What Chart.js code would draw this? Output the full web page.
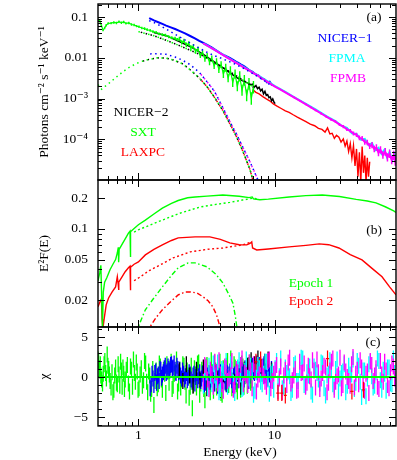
<!DOCTYPE html>
<html><head><meta charset="utf-8">
<script src="https://cdn.jsdelivr.net/npm/chart.js@4.4.1/dist/chart.umd.min.js"></script>
<style>
html,body{margin:0;padding:0;background:#fff;}
#wrap{position:relative;width:397px;height:460px;overflow:hidden;}
canvas{position:absolute;left:0;top:0;}
</style></head><body>
<div id="wrap">
<canvas id="ca" width="397" height="460"></canvas>
<canvas id="cb" width="397" height="460"></canvas>
<canvas id="cc" width="397" height="460"></canvas>
</div>
<script>
// ---------------- DATA ----------------
const X_MIN = 0.505, X_MAX = 78;
const X_TICKS = [1, 10];
const X_TICK_LABELS = ['1', '10'];
const X_MINOR = [0.6,0.7,0.8,0.9,2,3,4,5,6,7,8,9,20,30,40,50,60,70];

const A_TICKS = [1e-4, 1e-3, 0.01, 0.1];
const A_TICK_LABELS = ['10\u207B\u2074', '10\u207B\u00B3', '0.01', '0.1'];
const A_MINOR = [2e-5,3e-5,4e-5,5e-5,6e-5,7e-5,8e-5,9e-5,2e-4,3e-4,4e-4,5e-4,6e-4,7e-4,8e-4,9e-4,2e-3,3e-3,4e-3,5e-3,6e-3,7e-3,8e-3,9e-3,0.02,0.03,0.04,0.05,0.06,0.07,0.08,0.09,0.2];
const B_TICKS = [0.02, 0.05, 0.1, 0.2];
const B_TICK_LABELS = ['0.02', '0.05', '0.1', '0.2'];
const B_MINOR = [0.03,0.04,0.06,0.07,0.08,0.09];
const C_TICKS = [-5, 0, 5];
const C_TICK_LABELS = ['\u22125', '0', '5'];
const C_MINOR = [-6,-4,-3,-2,-1,1,2,3,4,6];

const INSTR = ['NICER\u22121', 'FPMA', 'FPMB', 'NICER\u22122', 'SXT', 'LAXPC'];
const EPOCHS = ['Epoch 1', 'Epoch 2'];

// Panel (a): unfolded spectra (photons cm^-2 s^-1 keV^-1)
const sxtE = [0.505,0.52,0.535,0.55,0.565,0.58,0.60,0.63,0.66,0.69,0.72,0.75,0.78,0.81,0.85,0.89,0.93,0.97,1.01,1.06,1.11,1.16,1.22,1.28,1.35,1.42,1.5,1.58,1.67,1.76,1.86,1.93,
  2.0,2.08,2.16,2.25,2.34,2.43,2.53,2.63,2.74,2.85,2.96,3.08,3.2,3.33,3.46,3.6,3.75,3.9,4.05,4.21,4.38,4.56,4.74,4.93,5.13,5.33,5.55,5.77,6.0,6.24,6.49,6.75,7.0];
const sxtV = [0.086,0.080,0.062,0.048,0.054,0.063,0.070,0.071,0.074,0.072,0.077,0.073,0.076,0.070,0.072,0.066,0.064,0.060,0.058,0.054,0.052,0.049,0.047,0.044,0.042,0.039,0.037,0.036,0.033,0.031,0.030,0.028,
  0.029,0.024,0.026,0.021,0.0225,0.0178,0.0190,0.0145,0.0162,0.0115,0.0133,0.0094,0.0112,0.0078,0.0096,0.0064,0.0082,0.0052,0.0068,0.0040,0.0057,0.0032,0.0049,0.0025,0.0040,0.0020,0.0035,0.0016,0.0028,0.0012,0.0023,0.0010,0.0019];
// fractional error (half size of each vertical error bar)
const sxtF = [0.07,0.07,0.07,0.07,0.07,0.07,0.07,0.07,0.07,0.07,0.07,0.07,0.07,0.07,0.07,0.07,0.07,0.07,0.07,0.07,0.08,0.08,0.08,0.08,0.08,0.08,0.09,0.09,0.09,0.09,0.10,0.10,
  0.13,0.13,0.13,0.13,0.14,0.14,0.14,0.15,0.15,0.16,0.16,0.18,0.18,0.19,0.19,0.20,0.20,0.22,0.22,0.25,0.25,0.27,0.27,0.30,0.30,0.33,0.33,0.36,0.36,0.40,0.40,0.42,0.42];
const nic1E = [1.2,1.3,1.4,1.5,1.6,1.73,1.86,2.0,2.2,2.4,2.6,2.8,3.0,3.2,3.45,3.7,4.0,4.3,4.69,5.0,5.3,5.65,6.0,6.3,6.56,6.9,7.2,7.6,8.0,8.4,8.8,9.2,9.6];
const nic1V = [0.095,0.083,0.075,0.068,0.062,0.056,0.051,0.046,0.040,0.0344,0.030,0.026,0.0232,0.0207,0.0180,0.0155,0.0130,0.0114,0.0100,0.0088,0.0078,0.0069,0.0062,0.0055,0.0049,0.0045,0.0040,0.0037,0.0031,0.0030,0.0025,0.0026,0.0021];
const fpmbE = [3.0,3.5,4.0,4.5,5.0,5.5,6.0,6.5,7.0,7.5,8.0,9.0,10,11,12,13,14,15.5,17,18.5,20,22,24,26,28,30,32,34,36,38,40,42,44,46,48,50,52,54,56,58,60,62.5,65,67.5,70,72.5,75,77,79];
const fpmbV = [0.0225,0.0168,0.0128,0.0101,0.0082,0.0068,0.0057,0.0049,0.0042,0.0037,0.0032,0.0025,0.0020,0.00168,0.00142,0.00121,0.00105,0.00086,0.00072,0.00061,0.00052,0.00043,0.00036,0.00031,0.00027,0.00023,0.000205,0.000175,0.000162,0.000138,0.000128,0.000108,0.000104,0.000085,0.000083,0.000068,0.000072,0.000058,0.000062,0.000047,0.000055,0.000041,0.000049,0.000036,0.000044,0.000031,0.000040,0.000029,0.000036];
const fpmbF = [0.03,0.03,0.03,0.03,0.03,0.03,0.03,0.03,0.03,0.03,0.03,0.03,0.04,0.04,0.04,0.04,0.05,0.05,0.05,0.06,0.06,0.07,0.07,0.08,0.08,0.09,0.10,0.10,0.11,0.12,0.13,0.14,0.15,0.16,0.17,0.18,0.19,0.20,0.21,0.22,0.23,0.24,0.25,0.26,0.27,0.28,0.30,0.30,0.32];
const fpmaE = [3.0,4.0,5.0,6.0,7.0,8.0,10,12,14,17,20,24,28,31,34,37,40,43,46,49,52,55,58,61,64,67,70,73,76,79];
const fpmaV = [0.0228,0.0130,0.0083,0.0058,0.0043,0.0033,0.00205,0.00145,0.00107,0.00074,0.00054,0.00037,0.00028,0.000215,0.000190,0.000140,0.000135,0.000098,0.000102,0.000072,0.000080,0.000054,0.000062,0.000044,0.000055,0.000036,0.000049,0.000030,0.000043,0.000028];
const laxE = [6.9,7.3,7.7,8.2,8.7,9.2,9.8,10.5,11.2,12,12.8,13.7,14.7,15.8,17,18.3,19.7,21,22.3,23.5,24.5,25.5,26.5,27.5,28.5,29.7,30.8,32,33,34,35,36,37,38,39,40,41,42,43,44,45,46,47,48,49,50];
const laxV = [0.00166,0.00142,0.00130,0.00112,0.00098,0.00088,0.00074,0.00064,0.00057,0.00050,0.00046,0.00040,0.00035,0.00031,0.00027,0.000235,0.000215,0.000185,0.000175,0.000150,0.000190,0.000135,0.000140,0.000105,0.000125,0.000112,0.000085,0.000102,0.000068,0.000090,0.000050,0.000078,0.000035,0.000070,0.000022,0.000058,0.000012,0.000048,0.000009,0.000066,0.000015,0.000040,0.000009,0.000035,0.000012,0.000028];
const nic2E = [1.3,1.6,2.0,2.5,3.0,3.5,4.0,4.5,5.0,5.5,6.0,6.4,6.7,6.9,7.1,7.3,7.5,7.7,7.9,8.1,8.3,8.5,8.7,8.9,9.1,9.3,9.5,9.7,9.9,10.1];
const nic2V = [0.042,0.035,0.025,0.0175,0.0122,0.0085,0.0063,0.0048,0.0037,0.0030,0.0026,0.0024,0.0022,0.00225,0.0019,0.0021,0.00175,0.0019,0.00155,0.0017,0.0013,0.0015,0.0012,0.00125,0.00105,0.0011,0.00088,0.00098,0.00082,0.00075];
// model components (a)
const pl1E = [1.2,1.33,1.6,2.0,2.5,3.0,3.5,4.0,5.0,6.0,8.0,9.6];
const pl1V = [0.082,0.0714,0.051,0.033,0.0215,0.0152,0.0118,0.0100,0.0073,0.0054,0.0031,0.0020];
const pl2E = [1.0,1.3,1.6,2.0,2.5,3.08,4.0,5.0,6.0,7.0];
const pl2V = [0.044,0.035,0.027,0.020,0.0145,0.0106,0.0063,0.0040,0.0027,0.0019];
const disk2E = [0.505,0.537,0.57,0.62,0.68,0.76,0.845,0.94,1.034,1.2,1.376,1.6,1.8,2.1,2.4,2.8,3.19,3.6,4.17,4.7,5.28,5.8,6.25,6.6,6.9,7.1];
const disk2V = [0.0022,0.0017,0.0020,0.0025,0.00325,0.0044,0.0057,0.0069,0.0080,0.0092,0.0100,0.0098,0.0089,0.0072,0.0051,0.0032,0.00196,0.00110,0.00051,0.00024,0.000112,0.000055,0.000029,0.000018,0.0000106,0.000008];
const disk1E = [1.22,1.4,1.6,1.86,2.1,2.4,2.8,3.19,3.6,4.17,4.7,5.28,5.9,6.56,7.0,7.5,7.7];
const disk1V = [0.0125,0.0126,0.0122,0.0105,0.0088,0.0068,0.0044,0.0026,0.00155,0.0006,0.00027,0.00013,0.00006,0.000029,0.000018,0.0000105,0.000008];

// Panel (b): E^2 F(E) models
const e1TotE = [0.505,0.52,0.53,0.537,0.545,0.552,0.565,0.585,0.62,0.65,0.68,0.70,0.712,0.716,0.722,0.76,0.80,0.845,0.868,0.873,0.878,0.93,1.0,1.125,1.3,1.5,1.75,1.96,2.3,2.61,3.19,4.17,5.5,6.5,6.85,7.0,7.8,9.0,12.8,17,22.4,30,39.8,48,55.6,65,75,78];
const e1TotV = [0.031,0.037,0.044,0.022,0.0105,0.024,0.030,0.033,0.040,0.045,0.050,0.058,0.066,0.047,0.063,0.071,0.080,0.091,0.095,0.053,0.094,0.101,0.110,0.122,0.140,0.160,0.178,0.190,0.202,0.206,0.210,0.215,0.209,0.203,0.206,0.197,0.193,0.196,0.206,0.212,0.215,0.208,0.195,0.188,0.180,0.165,0.150,0.145];
const e2TotE = [0.505,0.52,0.535,0.541,0.548,0.56,0.58,0.604,0.64,0.68,0.70,0.71,0.715,0.72,0.76,0.80,0.845,0.868,0.873,0.878,0.93,1.0,1.125,1.3,1.5,1.75,1.96,2.61,3.35,4.0,4.69,5.5,6.25,6.6,6.8,6.9,7.4,9.0,12.8,17,21.3,25,29.7,36,43.9,52,61.6,70,78];
const e2TotV = [0.0172,0.019,0.0205,0.013,0.0105,0.013,0.018,0.021,0.024,0.027,0.0339,0.029,0.0252,0.030,0.034,0.038,0.0415,0.043,0.025,0.042,0.045,0.0474,0.0556,0.063,0.0697,0.077,0.0816,0.0835,0.0835,0.079,0.073,0.070,0.0697,0.072,0.0746,0.065,0.0622,0.0635,0.0666,0.069,0.0713,0.070,0.065,0.056,0.0497,0.041,0.0339,0.027,0.0225];
const e1PlE = [0.93,1.0,1.45,2.0,2.84,3.6,4.69,5.8,6.9,7.5];
const e1PlV = [0.093,0.098,0.120,0.142,0.164,0.173,0.182,0.192,0.200,0.197];
const e2PlE = [0.93,1.034,1.2,1.45,1.8,2.4,3.2,4.17,5.83,6.8];
const e2PlV = [0.031,0.0339,0.039,0.0444,0.052,0.0595,0.063,0.065,0.0697,0.0746];
const e1DiskE = [0.97,1.0,1.125,1.3,1.5,1.75,1.96,2.32,2.61,3.19,3.7,4.17,4.6,4.94,5.15,5.28,5.35];
const e1DiskV = [0.0095,0.011,0.0161,0.021,0.027,0.035,0.0415,0.0464,0.0464,0.0424,0.036,0.0295,0.023,0.0188,0.014,0.011,0.0095];
const e2DiskE = [1.18,1.22,1.35,1.5,1.7,1.96,2.2,2.40,2.7,2.98,3.25,3.52,3.75,3.97,4.05];
const e2DiskV = [0.0095,0.011,0.0135,0.0161,0.019,0.0225,0.024,0.0241,0.0235,0.0216,0.0197,0.0172,0.0143,0.011,0.0098];

// Panel (c): residuals (chi), error = +-1
const CHI_ERR = 1;
const sxtRE = [0.50,0.51,0.52,0.53,0.545,0.56,0.575,0.59,0.605,0.62,
  0.64,0.66,0.68,0.70,0.72,0.74,0.76,0.78,0.80,0.83,
  0.86,0.89,0.92,0.95,0.98,1.01,1.05,1.09,1.13,1.17,
  1.21,1.25,1.30,1.35,1.40,1.45,1.50,1.56,1.62,1.68,
  1.74,1.80,1.87,1.94,2.01,2.08,2.16,2.24,2.32,2.40,
  2.49,2.58,2.67,2.77,2.87,2.97,3.08,3.19,3.31,3.43,
  3.56,3.69,3.83,3.97,4.12,4.27,4.43,4.60,4.77,4.95,
  5.14,5.33,5.53,5.74,5.96,6.19,6.43,6.68,6.94];
const sxtRR = [1.5,2.0,0.8,0.2,-0.8,1.6,0.5,2.8,1.0,-0.5,
  0.6,-1.6,1.2,-0.9,0.3,1.9,-1.2,0.4,-0.3,1.5,
  -1.8,0.9,2.2,-0.6,0.7,-1.4,1.1,-0.4,1.7,-1.9,
  0.2,-1.5,-3.5,0.8,-0.9,1.3,-1.6,0.4,1.6,-0.7,
  1.9,-1.1,0.6,-1.8,0.9,-0.3,1.4,-2.3,0.2,-1.2,
  -3.9,1.1,-1.3,1.8,-0.8,0.5,-2.9,1.5,-0.6,2.1,
  -1.7,0.8,-0.4,1.9,-2.2,0.6,1.4,-1.0,2.3,-0.5,
  1.2,-1.8,0.9,1.7,-1.2,0.4,1.5,-0.7,0.8];
const sxtRE2 = [0.505,0.515,0.525,0.537,0.552,0.567,0.582,0.597,0.612,0.63,
  0.65,0.67,0.69,0.71,0.73,0.75,0.77,0.79,0.815,0.845,
  0.875,0.905,0.935,0.965,0.995,1.03,1.07,1.11,1.15,1.19,
  1.23,1.275,1.325,1.375,1.425,1.475,1.53,1.59,1.65,1.71,
  1.77,1.835,1.905,1.975,2.045,2.12,2.2,2.28,2.36,2.445,
  2.535,2.625,2.72,2.82,2.92,3.025,3.135,3.25,3.37,3.495,
  3.625,3.76,3.9,4.045,4.195,4.35,4.515,4.685,4.86,5.045,
  5.235,5.43,5.635,5.85,6.075,6.31,6.555,6.81];
const sxtRR2 = [2.2,1.1,1.6,-0.3,0.4,2.0,-0.2,1.4,0.3,-1.3,
  -1.9,0.2,-0.7,1.6,-1.1,0.8,1.2,-1.5,0.9,-0.8,
  1.3,-1.2,0.5,1.8,-1.6,0.3,-1.1,2.0,-0.6,0.7,
  -2.1,1.0,-0.5,-1.4,1.7,-0.3,0.9,-2.0,0.7,1.2,
  -1.5,0.4,2.2,-0.8,-1.3,1.6,-0.6,0.8,-2.6,1.4,
  -1.0,0.3,1.7,-2.2,0.9,-1.5,1.3,-0.4,-1.9,0.6,
  1.8,-1.3,0.2,-2.0,1.1,-0.7,2.0,0.3,-1.4,1.6,
  -0.9,0.5,-1.6,1.3,0.1,-1.1,1.8,-0.4];
const nic1RE = [1.22,1.26,1.30,1.34,1.38,1.42,1.46,1.50,1.55,1.60,
  1.65,1.70,1.75,1.80,1.86,1.92,1.98,2.04,2.11,2.18,
  2.25,2.32,2.40,2.48,2.56,2.64,2.73,2.82,2.91,3.0,
  3.1,3.2,3.3,3.41,3.52,3.64,3.76,3.88,4.0,4.13,
  4.27,4.41,4.55,4.7,4.85,5.0,5.17,5.34,5.51,5.69,
  5.88,6.07,6.27,6.47,6.68,6.9,7.12,7.35,7.6,7.85,
  8.1,8.36,8.63,8.91,9.2,9.5];
const nic1RR = [-1.4,0.4,-1.0,0.7,0.1,-0.5,0.9,0.3,1.1,0.5,
  1.3,0.8,1.6,1.2,0.9,1.4,0.6,0.2,0.8,-0.3,
  0.5,-0.1,0.3,-0.6,0.4,0.0,-0.4,0.6,-0.2,0.3,
  -0.7,0.2,0.5,-0.3,0.1,-0.8,0.4,-0.1,0.6,-0.5,
  0.2,-0.9,0.3,0.7,-0.4,0.1,-0.6,0.4,0.9,-0.2,
  0.6,1.1,0.3,-0.5,0.8,1.4,0.5,1.7,0.9,1.2,
  0.4,1.6,0.7,-0.2,0.3,1.0];
const nic1RE2 = [1.24,1.28,1.32,1.36,1.40,1.44,1.48,1.525,1.575,1.625,
  1.675,1.725,1.775,1.83,1.89,1.95,2.01,2.075,2.145,2.215,
  2.285,2.36,2.44,2.52,2.6,2.685,2.775,2.865,2.955,3.05,
  3.15,3.25,3.355,3.465,3.58,3.7,3.82,3.94,4.065,4.2,
  4.34,4.48,4.625,4.775,4.925,5.085,5.255,5.425,5.6,5.785,
  5.975,6.17,6.37,6.575,6.79,7.01,7.235,7.475,7.725,7.975,
  8.23,8.495,8.77,9.055,9.35];
const nic1RR2 = [-0.9,-0.2,0.5,-0.7,0.3,1.0,-0.1,0.6,1.4,0.7,
  1.0,1.5,1.1,1.7,0.5,1.0,0.9,-0.2,0.4,0.1,
  -0.4,0.6,-0.3,0.2,-0.8,0.5,0.1,-0.5,0.4,-0.9,
  0.6,-0.2,-0.6,0.3,-0.4,0.5,-1.1,0.2,-0.3,0.4,
  -0.6,0.5,-0.2,0.1,-1.0,0.3,0.7,-0.4,0.2,0.8,
  -0.3,0.9,0.6,0.2,1.2,0.7,1.0,0.6,1.5,0.8,
  1.3,0.2,1.1,0.6,-0.4];
const nic2RE = [2.0,2.12,2.25,2.38,2.52,2.67,2.83,3.0,3.18,3.37,3.57,3.78,4.0,4.24,4.49,4.76,5.04,5.34,5.66,6.0,6.35,6.73,7.13,7.55,8.0,8.47,8.97,9.5];
const nic2RR = [0.8,-0.5,1.6,0.2,-1.1,0.9,-0.3,1.2,-1.4,0.4,-0.8,0.6,-1.6,0.3,-0.9,1.0,-0.6,0.5,-1.2,0.9,1.4,2.1,1.6,2.3,1.2,1.9,2.2,0.8];
const fpmbRE = [3.0,3.15,3.3,3.47,3.64,3.82,4.0,4.2,4.41,4.63,4.86,5.1,5.36,5.63,5.91,6.2,6.51,6.84,7.18,7.54,7.91,8.31,8.72,9.16,9.62,10.1,10.6,11.1,11.7,12.3,12.9,13.5,14.2,14.9,15.7,16.5,17.3,18.1,19.0,20.0,21.0,22.0,23.1,24.3,25.5,26.8,28.1,29.5,31.0,32.5,34.2,35.9,37.7,39.5,41.5,43.6,45.8,48.1,50.5,53.0,55.6,58.4,61.3,64.4,67.6,71.0,74.6,78.0];
const fpmbRR = [-0.6,1.2,-1.5,0.4,1.9,-0.8,0.3,-1.7,1.1,-0.2,
  2.0,-1.1,0.6,1.5,-0.9,0.2,1.8,-1.4,0.7,-0.3,
  1.6,0.1,-1.2,2.2,-0.5,0.9,-1.8,1.3,0.2,-1.0,
  2.4,-0.4,1.0,-1.6,0.5,1.7,-0.7,0.1,2.1,-1.3,
  0.6,-0.2,1.4,-1.9,0.8,2.3,-0.6,0.3,-1.4,1.8,
  0.0,-1.1,2.5,0.4,-0.9,1.2,-1.7,0.7,2.0,-0.5,
  1.1,-1.5,0.3,1.9,-1.0,0.6,1.3,-0.8];
const fpmaRE = [3.07,3.22,3.38,3.55,3.73,3.91,4.1,4.31,4.52,4.75,4.98,5.23,5.49,5.77,6.05,6.36,6.67,7.01,7.36,7.72,8.11,8.51,8.94,9.39,9.86,10.35,10.85,11.4,12.0,12.6,13.2,13.85,14.55,15.3,16.1,16.9,17.7,18.55,19.5,20.5,21.5,22.55,23.7,24.9,26.15,27.45,28.8,30.25,31.75,33.35,35.05,36.8,38.6,40.5,42.55,44.7,46.95,49.3,51.75,54.3,57.0,59.85,62.85,66.0,69.3,72.8,76.3];
const fpmaRR = [0.9,-1.3,0.2,1.7,-0.4,-1.9,1.0,0.5,-1.2,1.6,
  -0.7,0.3,2.1,-1.5,0.8,-0.1,1.4,-2.2,0.6,1.1,
  -0.9,1.9,-0.3,0.4,-1.6,2.0,0.1,-1.4,1.2,0.7,
  -2.0,1.5,-0.5,0.9,2.3,-1.1,0.2,-1.8,1.3,0.5,
  -0.8,1.7,-2.3,0.4,1.0,-1.2,2.2,-0.2,0.7,-1.9,
  1.4,0.3,-1.5,2.0,-0.6,0.8,-2.4,1.6,0.1,-1.1,
  2.3,-0.4,0.9,-1.7,1.2,-0.9,0.5];
// second set of bins (FPMB on FPMA grid, FPMA on FPMB grid)
const fpmbRR2 = [1.5,-0.3,0.9,-1.2,0.6,2.1,-0.9,1.3,-0.5,0.2,
  -1.6,1.0,-0.4,2.3,0.5,-1.0,0.8,1.6,-1.8,0.3,
  1.1,-0.6,2.0,-1.4,0.4,1.5,-0.2,-1.9,0.9,1.8,
  -0.8,0.2,-1.7,1.9,0.6,-1.2,1.4,-0.3,0.8,2.2,
  -1.5,0.5,1.2,-0.7,1.9,-1.6,0.1,2.4,-1.0,0.7,
  -0.5,1.6,-1.3,0.9,2.1,-0.8,0.4,-2.0,1.5,0.2,
  -1.2,2.0,-0.6,0.8,-1.4,1.7,-0.2];
const fpmaRR2 = [-1.1,0.6,1.4,-0.9,0.2,1.8,-1.5,0.7,2.0,-0.4,
  0.9,-2.0,1.2,0.3,-1.3,2.2,-0.2,0.8,-1.7,1.5,
  -0.6,0.4,1.9,-2.1,0.7,1.1,-0.8,2.3,-1.2,0.5,
  0.1,-1.6,1.7,-0.5,2.4,-1.0,0.6,1.3,-2.2,0.9,
  -0.3,1.8,-1.4,0.2,2.1,-0.9,1.0,-1.8,0.5,1.6,
  -1.1,0.3,2.2,-0.7,1.4,-2.5,0.8,-0.2,1.9,-1.3,
  0.6,2.0,-1.6,0.4,1.2,-0.8,2.3,-0.5];
const laxRE = [7.3,7.9,10.6,11.3,12.0,24.5,37.0,45.0];
const laxRlo = [7.1,7.7,10.3,11.0,11.7,23.8,36.0,44.0];
const laxRhi = [7.5,8.1,10.9,11.6,12.3,25.2,38.0,46.0];
const laxRR = [1.9,2.2,-2.0,-2.0,-2.3,2.3,-1.8,-1.6];

// ---------------- STYLE / BUILD ----------------
const FONT = "'Liberation Serif','Times New Roman','DejaVu Serif',serif";
const FS = 13.5;
const C = {green:'#00ff00', red:'#ff0000', blue:'#0000ff', cyan:'#00ffff', mag:'#ff00ff', black:'#000000'};
Chart.defaults.font.family = FONT;
Chart.defaults.font.size = FS;
Chart.defaults.color = '#000';

const pts = (E, V) => E.map((e, i) => ({x: e, y: V[i]}));
const bars = (E, R) => {
  const out = [];
  E.forEach((e, i) => { out.push({x: e, y: R[i] - CHI_ERR}, {x: e, y: R[i] + CHI_ERR}, {x: e, y: null}); });
  return out;
};
const logBars = (E, V, F) => {
  const out = [];
  E.forEach((e, i) => { out.push({x: e, y: V[i] / (1 + F[i])}, {x: e, y: V[i] * (1 + F[i])}, {x: e, y: null}); });
  return out;
};
const crosses = (E, lo, hi, R) => {
  const out = [];
  E.forEach((e, i) => {
    out.push({x: e, y: R[i] - CHI_ERR}, {x: e, y: R[i] + CHI_ERR}, {x: e, y: null});
    out.push({x: lo[i], y: R[i]}, {x: hi[i], y: R[i]}, {x: hi[i], y: null});
  });
  return out;
};
const ln = (label, data, color, width, order, dash, dashOff) => ({
  label, data, borderColor: color, backgroundColor: color, borderWidth: width, order,
  borderDash: dash || [], borderDashOffset: dashOff || 0,
  pointRadius: 0, pointHoverRadius: 0, tension: 0, fill: false, spanGaps: false, clip: 0
});
const DOT = [1.5, 3.5];
const DOTB = [2, 2.5];
const DASHDOT = [5, 2.5, 1.5, 2.5];

function framePlugin(cfg) {
  return {
    id: 'frameTicks',
    afterDatasetsDraw(chart) {
      const {ctx, chartArea: a} = chart;
      const x = chart.scales.x, y = chart.scales.y;
      ctx.save();
      ctx.strokeStyle = '#000';
      ctx.lineWidth = 1;
      ctx.beginPath();
      const vx = (vals, len) => vals.forEach(v => {
        const p = Math.round(x.getPixelForValue(v)) + 0.5;
        ctx.moveTo(p, a.top); ctx.lineTo(p, a.top + len);
        ctx.moveTo(p, a.bottom); ctx.lineTo(p, a.bottom - len);
      });
      const vy = (vals, len) => vals.forEach(v => {
        const p = Math.round(y.getPixelForValue(v)) + 0.5;
        ctx.moveTo(a.left, p); ctx.lineTo(a.left + len, p);
        ctx.moveTo(a.right, p); ctx.lineTo(a.right - len, p);
      });
      vx(X_TICKS, 7); vx(X_MINOR, 4);
      vy(cfg.yMajor, 7); vy(cfg.yMinor, 4);
      ctx.stroke();
      ctx.lineWidth = 1.4;
      ctx.strokeRect(a.left, a.top, a.right - a.left, a.bottom - a.top);
      ctx.restore();
    },
    afterDraw(chart) {
      const ctx = chart.ctx;
      ctx.save();
      cfg.notes.forEach(n => {
        ctx.font = FS + 'px ' + FONT;
        ctx.fillStyle = n.color;
        ctx.textAlign = 'center';
        ctx.textBaseline = 'middle';
        ctx.fillText(n.text, n.x, n.y);
      });
      ctx.restore();
    }
  };
}

function yScale(type, min, max, ticks, labels, title) {
  return {
    type, min, max,
    afterFit: s => { s.width = 98; s.paddingTop = 0; s.paddingBottom = 0; },
    afterBuildTicks: s => { s.ticks = ticks.map(v => ({value: v})); },
    ticks: {callback: (v, i) => labels[i], padding: 10, autoSkip: false, color: '#000', font: {size: FS}},
    grid: {display: false, drawTicks: false},
    border: {display: false},
    title: {display: true, text: title, color: '#000', font: {size: FS}, padding: {top: 36, bottom: 0}}
  };
}
function xScale(show) {
  return {
    type: 'logarithmic', min: X_MIN, max: X_MAX, display: show,
    afterFit: s => { s.height = show ? 34 : 0; s.paddingLeft = 0; s.paddingRight = 0; },
    afterBuildTicks: s => { s.ticks = X_TICKS.map(v => ({value: v})); },
    ticks: {callback: (v, i) => X_TICK_LABELS[i], padding: 1, autoSkip: false, maxRotation: 0, color: '#000', font: {size: FS}},
    grid: {display: false, drawTicks: false},
    border: {display: false}
  };
}
function baseOpts(padTop, padBottom, x, y) {
  return {
    responsive: false, animation: false, devicePixelRatio: 1,
    layout: {padding: {top: padTop, bottom: padBottom, left: 0, right: 1}},
    plugins: {legend: {display: false}, tooltip: {enabled: false}, title: {display: false}},
    events: [],
    scales: {x, y}
  };
}

// ---- Panel (a)
new Chart(document.getElementById('ca'), {
  type: 'line',
  data: {datasets: [
    ln('PL NICER-1', pts(pl1E, pl1V), C.blue, 1.5, 1, DOT),
    ln('PL SXT', pts(pl2E, pl2V), C.green, 1.5, 2, DOT),
    ln('PL NICER-2', pts(pl2E, pl2V), C.black, 1.5, 3, DOT, 2.5),
    ln('disk NICER-1', pts(disk1E, disk1V), C.blue, 1.5, 4, DOT),
    ln('disk FPMB', pts(disk1E.slice(6), disk1V.slice(6)), C.mag, 1.5, 5, DOT, 2.5),
    ln('disk SXT', pts(disk2E, disk2V), C.green, 1.5, 6, DOT),
    ln('disk NICER-2', pts(disk2E.slice(8), disk2V.slice(8)), C.black, 1.5, 7, DOT, 2.5),
    ln('disk LAXPC', pts(disk2E.slice(15), disk2V.slice(15)), C.red, 1.5, 8, DOT, 1.2),
    ln(INSTR[2], pts(fpmbE, fpmbV), C.mag, 2, 10),
    ln(INSTR[2] + ' err', logBars(fpmbE, fpmbV, fpmbF), C.mag, 1.5, 10.5),
    ln(INSTR[1], pts(fpmaE, fpmaV), C.cyan, 2, 11),
    ln(INSTR[0], pts(nic1E, nic1V), C.blue, 2, 12),
    ln(INSTR[4], pts(sxtE, sxtV), C.green, 1.2, 13),
    ln(INSTR[4] + ' err', logBars(sxtE, sxtV, sxtF), C.green, 1.4, 13.5),
    ln(INSTR[3], pts(nic2E, nic2V), C.black, 1.5, 14),
    ln(INSTR[5], pts(laxE, laxV), C.red, 1.4, 15)
  ]},
  options: baseOpts(4, 280, xScale(false),
    yScale('logarithmic', 1e-5, 0.21, A_TICKS, A_TICK_LABELS, 'Photons cm\u207B\u00B2 s\u207B\u00B9 keV\u207B\u00B9')),
  plugins: [framePlugin({yMajor: A_TICKS, yMinor: A_MINOR, notes: [
    {text: '(a)', x: 374, y: 17, color: '#000'},
    {text: INSTR[0], x: 345, y: 38, color: C.blue},
    {text: INSTR[1], x: 347, y: 58, color: C.cyan},
    {text: INSTR[2], x: 348, y: 78, color: C.mag},
    {text: INSTR[3], x: 141, y: 112, color: C.black},
    {text: INSTR[4], x: 143, y: 132, color: C.green},
    {text: INSTR[5], x: 143, y: 152, color: C.red}
  ]})]
});

// ---- Panel (b)
new Chart(document.getElementById('cb'), {
  type: 'line',
  data: {datasets: [
    ln('Epoch 1 total', pts(e1TotE, e1TotV), C.green, 1.4, 1),
    ln('Epoch 2 total', pts(e2TotE, e2TotV), C.red, 1.4, 2),
    ln('Epoch 1 powerlaw', pts(e1PlE, e1PlV), C.green, 1.4, 3, DOTB),
    ln('Epoch 2 powerlaw', pts(e2PlE, e2PlV), C.red, 1.4, 4, DOTB),
    ln('Epoch 1 disk', pts(e1DiskE, e1DiskV), C.green, 1.4, 5, DASHDOT),
    ln('Epoch 2 disk', pts(e2DiskE, e2DiskV), C.red, 1.4, 6, DASHDOT)
  ]},
  options: baseOpts(180, 133, xScale(false),
    yScale('logarithmic', 0.0109, 0.302, B_TICKS, B_TICK_LABELS, 'E\u00B2F(E)')),
  plugins: [framePlugin({yMajor: B_TICKS, yMinor: B_MINOR, notes: [
    {text: '(b)', x: 374, y: 230, color: '#000'},
    {text: EPOCHS[0], x: 311, y: 283, color: C.green},
    {text: EPOCHS[1], x: 311, y: 301, color: C.red}
  ]})]
});

// ---- Panel (c)
new Chart(document.getElementById('cc'), {
  type: 'line',
  data: {datasets: [
    ln('model', [{x: X_MIN, y: 0}, {x: X_MAX, y: 0}], C.green, 2, 0),
    ln(INSTR[5], crosses(laxRE, laxRlo, laxRhi, laxRR), C.red, 1.2, 1),
    ln(INSTR[2], bars(fpmbRE, fpmbRR), C.mag, 1.3, 2),
    ln(INSTR[2] + ' b', bars(fpmaRE, fpmbRR2), C.mag, 1.3, 2.5),
    ln(INSTR[1], bars(fpmaRE, fpmaRR), C.cyan, 1.3, 3),
    ln(INSTR[1] + ' b', bars(fpmbRE, fpmaRR2), C.cyan, 1.3, 3.5),
    ln(INSTR[3], bars(nic2RE, nic2RR), C.black, 1.3, 4),
    ln(INSTR[0], bars(nic1RE, nic1RR), C.blue, 1.3, 5),
    ln(INSTR[0] + ' b', bars(nic1RE2, nic1RR2), C.blue, 1.3, 5.5),
    ln(INSTR[4], bars(sxtRE, sxtRR), C.green, 1.3, 6),
    ln(INSTR[4] + ' b', bars(sxtRE2, sxtRR2), C.green, 1.3, 6.5)
  ]},
  options: baseOpts(327, 0, xScale(true),
    yScale('linear', -6.12, 6.25, C_TICKS, C_TICK_LABELS, '\u03C7')),
  plugins: [framePlugin({yMajor: C_TICKS, yMinor: C_MINOR, notes: [
    {text: '(c)', x: 373, y: 342, color: '#000'},
    {text: 'Energy (keV)', x: 240, y: 452, color: '#000'}
  ]})]
});
</script>
</body></html>
